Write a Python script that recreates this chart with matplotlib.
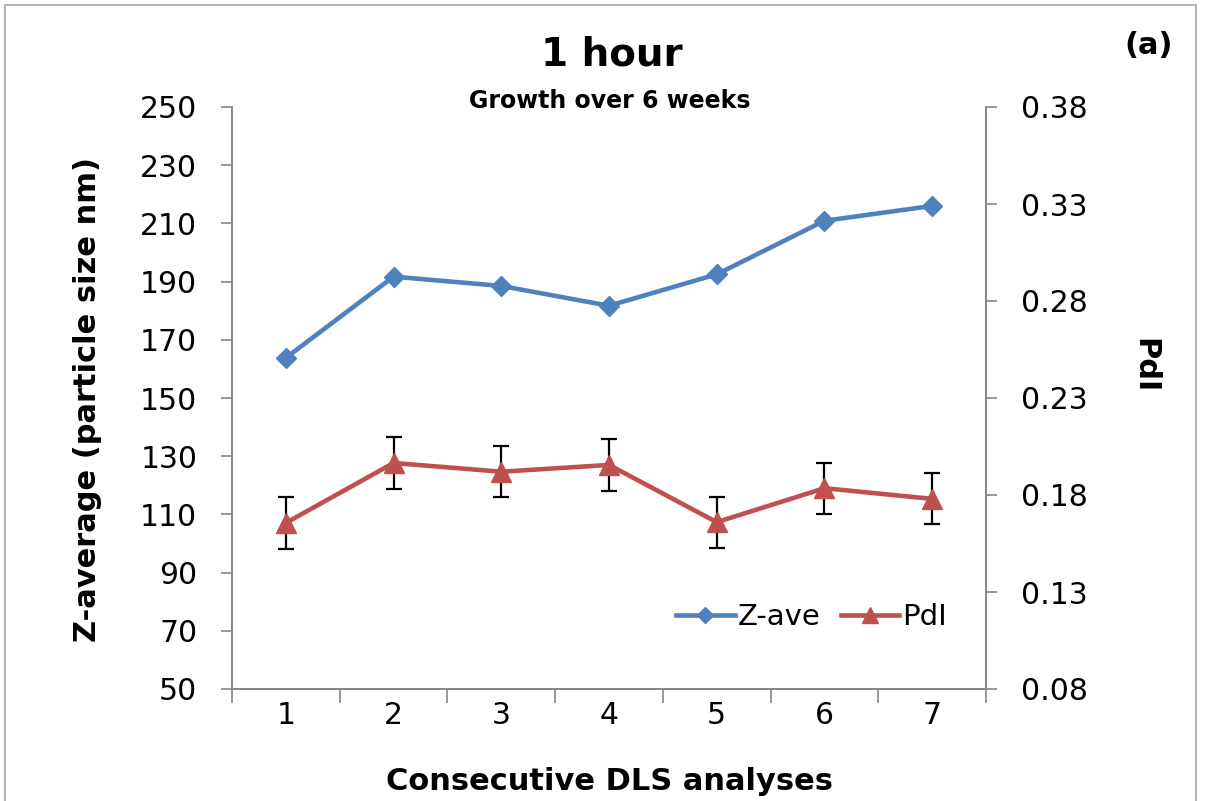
import numpy as np
import matplotlib as mpl
mpl.use('Agg')
import matplotlib.pyplot as plt
from matplotlib.patches import Rectangle
from matplotlib.ticker import FixedLocator

# DLS measurements, 1 hour sample
runs = [1, 2, 3, 4, 5, 6, 7]
zave = [163.8, 191.7, 188.5, 181.7, 192.5, 210.9, 216.0]
pdi = [0.1656, 0.1965, 0.192, 0.1955, 0.166, 0.1835, 0.178]
pdi_err = [0.0132, 0.0132, 0.0132, 0.0132, 0.0132, 0.0132, 0.0132]

zticks = np.arange(50, 251, 20)
pticks = [0.08, 0.13, 0.18, 0.23, 0.28, 0.33, 0.38]

blue = '#4F81BD'
red = '#C0504D'
grey = '#868686'

plt.rcParams['font.family'] = ['DejaVu Sans']

W, H = 1221, 801
fig = plt.figure(figsize=(W/100, H/100), dpi=100)
# chart area border (bottom edge runs off the image)
fig.patches.append(Rectangle((5/W, -0.02), 1191/W, 1.02 - 5/H, transform=fig.transFigure,
                             fill=False, edgecolor='#a6a6a6', linewidth=1.2))

ax = fig.add_axes([232/W, 1 - 689/H, 754/W, 582/H])
ax2 = ax.twinx()

l1, = ax.plot(runs, zave, color=blue, linewidth=3.3, marker='D', markersize=10,
              label='Z-ave', zorder=3)
ax2.errorbar(runs, pdi, yerr=pdi_err, fmt='none', ecolor='black', elinewidth=1.6,
             capsize=6, capthick=1.6, zorder=2)
l2, = ax2.plot(runs, pdi, color=red, linewidth=3.3, marker='^', markersize=14,
               label='PdI', zorder=3)

ax.set_xlim(0.5, 7.5)
ax.set_ylim(50, 250)
ax2.set_ylim(0.08, 0.38)
ax.set_yticks(zticks)
ax2.set_yticks(pticks)
ax2.set_yticklabels(['%.2f' % t for t in pticks])

ax.set_xticks(runs)
ax.xaxis.set_minor_locator(FixedLocator(np.arange(0.5, 7.6, 1.0)))
ax.tick_params(axis='x', which='major', length=0, labelsize=21.5, pad=9)
ax.tick_params(axis='x', which='minor', length=10, width=1.2, color=grey, direction='out')
ax.tick_params(axis='y', length=8, width=1.2, color=grey, labelsize=21.5, pad=17)
ax2.tick_params(axis='y', length=8, width=1.2, color=grey, labelsize=21.5, pad=17)

for a in (ax, ax2):
    a.spines['top'].set_visible(False)
    for s in ('left', 'right', 'bottom'):
        a.spines[s].set_color(grey)
        a.spines[s].set_linewidth(1.2)

# titles and axis labels placed in figure pixels
fig.text(610/W, 1 - 781/H, 'Consecutive DLS analyses', ha='center', va='center',
         fontsize=22, fontweight='bold')
fig.text(88/W, 1 - 400/H, 'Z-average (particle size nm)', ha='center', va='center',
         rotation=90, fontsize=22, fontweight='bold')
fig.text(1145/W, 1 - 366/H, 'PdI', ha='center', va='center', rotation=-90,
         fontsize=22, fontweight='bold')
fig.text(612/W, 1 - 55/H, '1 hour', ha='center', va='center', fontsize=28, fontweight='bold')
fig.text(610/W, 1 - 101/H, 'Growth over 6 weeks', ha='center', va='center',
         fontsize=17, fontweight='bold')
fig.text(1149/W, 1 - 46/H, '(a)', ha='center', va='center', fontsize=22, fontweight='bold')

ax.legend(handles=[l1, l2], loc='lower right', bbox_to_anchor=(0.975, 0.065), ncol=2,
          frameon=False, fontsize=21, handlelength=2.0, handletextpad=0.1,
          columnspacing=0.7, markerscale=0.8, borderpad=0.2)

fig.savefig('out.png', dpi=100)
plt.close()
